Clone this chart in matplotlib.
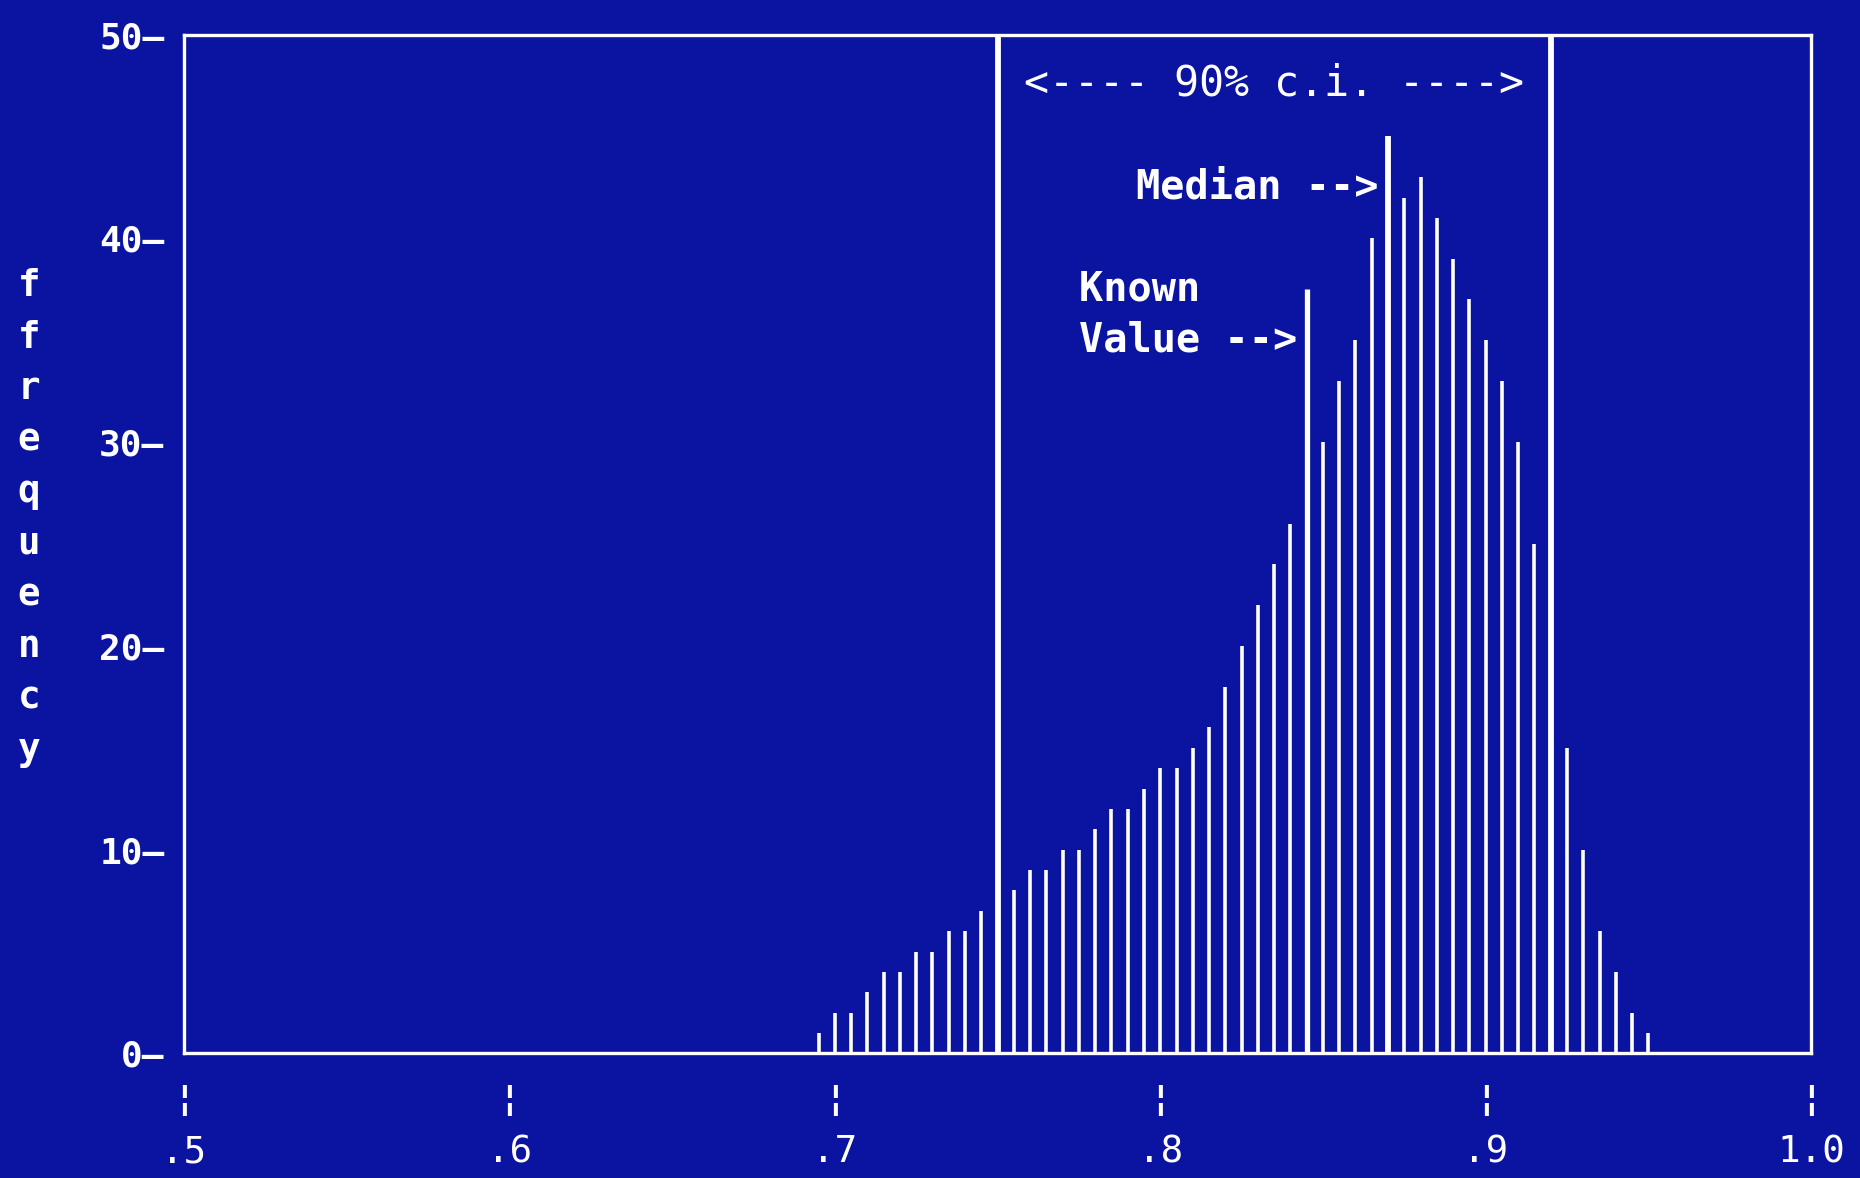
import matplotlib
matplotlib.use("Agg")
import matplotlib.pyplot as plt
import matplotlib.transforms as mtransforms

# histogram of the estimates (bin centre, count)
bin_x = [0.695, 0.700, 0.705, 0.710, 0.715, 0.720, 0.725, 0.730, 0.735, 0.740,
         0.745, 0.755, 0.760, 0.765, 0.770, 0.775, 0.780, 0.785, 0.790, 0.795,
         0.800, 0.805, 0.810, 0.815, 0.820, 0.825, 0.830, 0.835, 0.840, 0.850,
         0.855, 0.860, 0.865, 0.875, 0.880, 0.885, 0.890, 0.895, 0.900, 0.905,
         0.910, 0.915, 0.925, 0.930, 0.935, 0.940, 0.945, 0.950]
counts = [1, 2, 2, 3, 4, 4, 5, 5, 6, 6,
          7, 8, 9, 9, 10, 10, 11, 12, 12, 13,
          14, 14, 15, 16, 18, 20, 22, 24, 26, 30,
          33, 35, 40, 42, 43, 41, 39, 37, 35, 33,
          30, 25, 15, 10, 6, 4, 2, 1]

# marker lines
ci_low, ci_high = 0.75, 0.92
median_x, median_h = 0.87, 45
known_x, known_h = 0.845, 37.5

x_ticks = [0.5, 0.6, 0.7, 0.8, 0.9, 1.0]
x_labels = [".5", ".6", ".7", ".8", ".9", "1.0"]
y_ticks = [0, 10, 20, 30, 40, 50]
y_labels = ["0–", "10–", "20–", "30–", "40–", "50–"]

bg = "#0A14A0"
fg = "white"
mono = "DejaVu Sans Mono"

fig = plt.figure(figsize=(18.6, 11.78), dpi=100, facecolor=bg)
ax = fig.add_axes([0.0989, 0.1057, 0.8748, 0.865])
ax.set_facecolor(bg)

# histogram spikes
ax.vlines(bin_x, 0, counts, color=fg, linewidth=2.6)

# confidence interval, median and known value
ax.vlines([ci_low, ci_high], 0, 50, color=fg, linewidth=4.2)
ax.vlines(median_x, 0, median_h, color=fg, linewidth=4.2)
ax.vlines(known_x, 0, known_h, color=fg, linewidth=3.8)

ax.set_xlim(0.5, 1.0)
ax.set_ylim(0, 50)

for s in ax.spines.values():
    s.set_color(fg)
    s.set_linewidth(2.4)

ax.set_yticks(y_ticks)
ax.set_yticklabels(y_labels, fontfamily=mono, fontweight="bold", fontsize=26, color=fg)
ax.tick_params(axis="y", length=0, pad=14)

ax.set_xticks(x_ticks)
ax.set_xticklabels(x_labels, fontfamily=mono, fontsize=27, color=fg)
ax.tick_params(axis="x", length=0, pad=58)

# broken-bar tick marks under the x axis
trans = mtransforms.blended_transform_factory(ax.transData, fig.transFigure)
for xt in x_ticks:
    ax.text(xt, 0.066, "¦", transform=trans, ha="center", va="center",
            fontfamily=mono, fontweight="bold", fontsize=26, color=fg, clip_on=False)

# annotations
ax.text((ci_low + ci_high) / 2, 47.6, "<---- 90% c.i. ---->", ha="center", va="center",
        fontfamily=mono, fontsize=30, color=fg)
ax.text(median_x - 0.003, 42.5, "Median -->", ha="right", va="center",
        fontfamily=mono, fontweight="bold", fontsize=29, color=fg)
ax.text(known_x - 0.003, 37.5, "Known    ", ha="right", va="center",
        fontfamily=mono, fontweight="bold", fontsize=29, color=fg)
ax.text(known_x - 0.003, 35.0, "Value -->", ha="right", va="center",
        fontfamily=mono, fontweight="bold", fontsize=29, color=fg)

# stacked y-axis label
ylab = "ffrequency"
for i, ch in enumerate(ylab):
    fig.text(0.0155, 0.757 - i * 0.0437, ch, ha="center", va="center",
             fontfamily=mono, fontweight="bold", fontsize=27, color=fg)

fig.savefig("out.png", dpi=100, facecolor=bg)
